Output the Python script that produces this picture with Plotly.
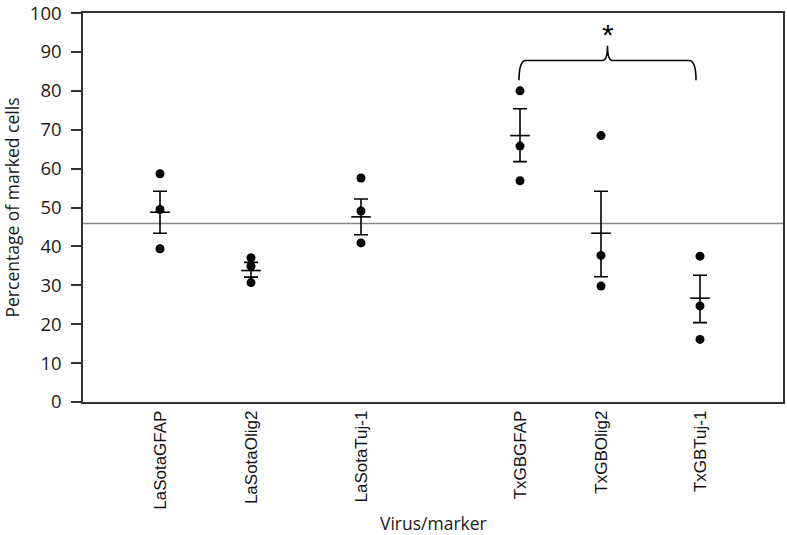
import plotly.graph_objects as go

categories = ["LaSotaGFAP", "LaSotaOlig2", "LaSotaTuj-1", "TxGBGFAP", "TxGBOlig2", "TxGBTuj-1"]
positions = [0.77, 1.68, 2.78, 4.37, 5.18, 6.17]
rep_high = [58.7, 37.1, 57.6, 80.0, 68.5, 37.5]
rep_mid = [49.5, 34.9, 49.1, 65.8, 37.7, 24.7]
rep_low = [39.4, 30.7, 40.9, 56.9, 29.8, 16.1]
means = [48.8, 33.8, 47.6, 68.5, 43.4, 26.7]
err_plus = [5.4, 2.1, 4.6, 6.9, 10.8, 5.9]
err_minus = [5.4, 1.7, 4.6, 6.7, 11.2, 6.3]
overall_mean = 45.9
y_ticks = list(range(0, 101, 10))

fig = go.Figure()

for reps in (rep_high, rep_mid, rep_low):
    fig.add_trace(go.Scatter(
        x=positions, y=reps, mode="markers",
        marker=dict(symbol="circle", size=9, color="black"),
        showlegend=False, hoverinfo="y", cliponaxis=False))

fig.add_trace(go.Scatter(
    x=positions, y=means, mode="markers",
    marker=dict(symbol="line-ew-open", size=14, color="black",
                line=dict(color="black", width=1.6)),
    error_y=dict(type="data", array=err_plus, arrayminus=err_minus,
                 color="black", thickness=1.6, width=7),
    showlegend=False))

# overall mean reference line
fig.add_shape(type="line", xref="paper", yref="y", x0=0, x1=1,
              y0=overall_mean, y1=overall_mean,
              line=dict(color="#888888", width=1.5), layer="below")

# significance brace between TxGBGFAP and TxGBTuj-1
xl, xr = positions[3] - 0.01, positions[5] - 0.04
xc = (xl + xr) / 2
yb, yh, yc = 82.7, 87.8, 91.6
path = (f"M {xl},{yb} Q {xl},{yh} {xl+0.07},{yh} L {xc-0.05},{yh} "
        f"Q {xc},{yh} {xc},{yc} Q {xc},{yh} {xc+0.05},{yh} "
        f"L {xr-0.07},{yh} Q {xr},{yh} {xr},{yb}")
fig.add_shape(type="path", xref="x", yref="y", path=path,
              line=dict(color="black", width=1.6))
fig.add_annotation(x=xc, y=yc, xref="x", yref="y", text="*",
                   showarrow=False, yanchor="bottom", yshift=-7,
                   font=dict(family="Liberation Sans", size=30, color="black"))

# axis titles as annotations for precise placement
fig.add_annotation(x=0.5, y=0, xref="paper", yref="paper", text="Virus/marker",
                   showarrow=False, yanchor="middle", yshift=-121,
                   font=dict(family="Open Sans", size=17.5, color="#1a1a1a"))
fig.add_annotation(x=0, y=0.5, xref="paper", yref="paper",
                   text="Percentage of marked cells", textangle=-90,
                   showarrow=False, xanchor="center", xshift=-72,
                   font=dict(family="Open Sans", size=17.5, color="#1a1a1a"))

fig.update_layout(
    width=787, height=535,
    margin=dict(l=83, r=4, t=13, b=133, autoexpand=False),
    paper_bgcolor="white", plot_bgcolor="white",
    font=dict(family="Open Sans", color="#1a1a1a"),
    xaxis=dict(range=[0, 7], tickvals=positions, ticktext=categories,
               tickangle=-90, showgrid=False, zeroline=False, automargin=False,
               showline=True, mirror=True, linecolor="#333333", linewidth=1.5,
               ticks="", tickfont=dict(family="Liberation Sans", size=17, color="#111111")),
    yaxis=dict(range=[0, 100.02], tickvals=y_ticks, showgrid=False, zeroline=False,
               automargin=False, ticklabeloverflow="allow", ticklabelstandoff=6,
               showline=True, mirror=True, linecolor="#333333", linewidth=1.5,
               ticks="outside", ticklen=10, tickwidth=1.5, tickcolor="#333333",
               tickfont=dict(family="Open Sans", size=18.5, color="#1a1a1a")),
)

fig.write_html("out.html", config={"displayModeBar": False},
               post_script="document.body.style.margin='0';document.body.style.overflow='hidden';")
